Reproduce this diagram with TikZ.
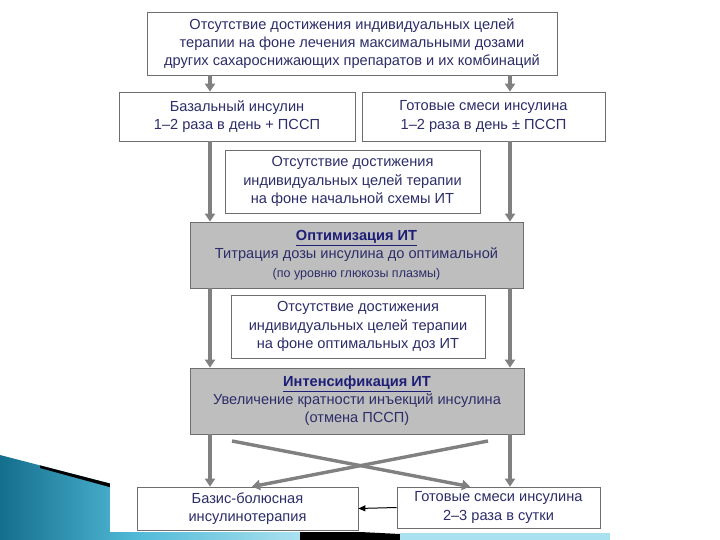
\documentclass[tikz,border=0pt]{standalone}
\usepackage{fontspec}
\setmainfont{Liberation Sans}
\usetikzlibrary{arrows.meta,calc}
\definecolor{txt}{RGB}{45,45,105}
\definecolor{ttl}{RGB}{30,30,120}
\definecolor{boxgray}{RGB}{190,190,190}
\definecolor{edge}{RGB}{110,110,110}
\definecolor{arrgray}{RGB}{128,128,128}
\definecolor{tealA}{RGB}{20,110,140}
\definecolor{tealB}{RGB}{80,185,215}
\definecolor{tealC}{RGB}{170,225,240}
\tikzset{
  x=1pt, y=-1pt,
  wbox/.style={draw=edge, line width=0.8pt, fill=white, align=center, text=txt,
    font=\fontsize{14.6}{18.2}\selectfont, inner sep=0pt},
  gbox/.style={draw=edge, line width=0.8pt, fill=boxgray, align=center, text=txt,
    font=\fontsize{14.6}{18.2}\selectfont, inner sep=0pt},
  garr/.style={draw=arrgray, line width=3.4pt, -{Triangle[length=8pt,width=10pt]}},
  karr/.style={draw=black, line width=1pt, -{Triangle[length=7pt,width=6pt]}}
}
\begin{document}
\begin{tikzpicture}
\useasboundingbox (0,0) rectangle (720,540);
% slide decoration
\shade[left color=tealA, right color=tealB] (0,455) -- (135,490) -- (135,540) -- (0,540) -- cycle;
\fill[black] (40,465.4) -- (135,490) -- (135,494) -- (40,468) -- cycle;
\shade[left color=tealB, right color=tealC] (135,525) -- (300,525) -- (300,540) -- (135,540) -- cycle;
\fill[black] (300,529) -- (400,534) -- (400,540) -- (300,540) -- cycle;
\fill[tealC] (400,533) -- (610,533) -- (610,540) -- (400,540) -- cycle;
% picture area
\fill[white] (110,0) rectangle (615,532);
% column guides
\coordinate (xl) at (210,0);
\coordinate (xr) at (510,0);
% nodes
\node[wbox, minimum width=410, minimum height=63] (top) at (352,43.5)
  {Отсутствие достижения индивидуальных целей\\терапии на фоне лечения максимальными дозами\\других сахароснижающих препаратов и их комбинаций};
\node[wbox, minimum width=236, minimum height=49] (bl) at (237,116.5)
  {Базальный инсулин\\1–2 раза в день + ПССП};
\node[wbox, minimum width=243, minimum height=49] (br) at (483.5,116.5)
  {Готовые смеси инсулина\\1–2 раза в день ± ПССП};
\node[wbox, minimum width=255, minimum height=63] (m1) at (352.5,181.5)
  {Отсутствие достижения\\индивидуальных целей терапии\\на фоне начальной схемы ИТ};
\node[gbox, minimum width=333, minimum height=66] (opt) at (356.5,255)
  {\textcolor{ttl}{\textbf{\underline{Оптимизация ИТ}}}\\Титрация дозы инсулина до оптимальной\\{\fontsize{12.5}{16}\selectfont (по уровню глюкозы плазмы)}};
\node[wbox, minimum width=254, minimum height=63] (m2) at (358,326.5)
  {Отсутствие достижения\\индивидуальных целей терапии\\на фоне оптимальных доз ИТ};
\node[gbox, minimum width=334, minimum height=66] (int) at (357,401)
  {\textcolor{ttl}{\textbf{\underline{Интенсификация ИТ}}}\\Увеличение кратности инъекций инсулина\\(отмена ПССП)};
\node[wbox, minimum width=221, minimum height=43] (bbl) at (247.5,508.5)
  {Базис-болюсная\\инсулинотерапия};
\node[wbox, minimum width=203, minimum height=41] (bbr) at (498.5,507.5)
  {Готовые смеси инсулина\\2–3 раза в сутки};
% connectors
\draw[garr] (top.south -| xl) -- (bl.north -| xl);
\draw[garr] (top.south -| xr) -- (br.north -| xr);
\draw[garr] (bl.south -| xl) -- (opt.north -| xl);
\draw[garr] (br.south -| xr) -- (opt.north -| xr);
\draw[garr] (opt.south -| xl) -- (int.north -| xl);
\draw[garr] (opt.south -| xr) -- (int.north -| xr);
\draw[garr] (int.south -| xl) -- (bbl.north -| xl);
\draw[garr] (int.south -| xr) -- (bbr.north -| xr);
\coordinate (c1) at (232,441);
\coordinate (c2) at (488,441);
\draw[garr] (c1) -- (bbr.north -| 470,0);
\draw[garr] (c2) -- (bbl.north -| 252,0);
\draw[karr] (bbr.west) -- (bbl.east);
\end{tikzpicture}
\end{document}
